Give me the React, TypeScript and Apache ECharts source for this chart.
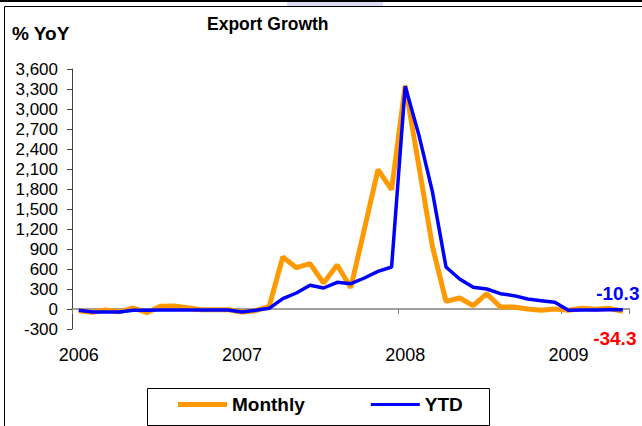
import React, { useEffect, useRef } from "react";
import * as echarts from "echarts";

const months: string[] = [];
const years = ["2006", "2007", "2008", "2009"];
years.forEach((y) => {
  for (let m = 1; m <= 12; m++) months.push(`${y}-${String(m).padStart(2, "0")}`);
});
const categories = months.slice(0, 41); // Jan 2006 - May 2009

const monthly = [
  -25, -50, -15, -40, 15, -55, 40, 45, 20, -10, -10, -10,
  -45, -25, 40, 780, 620, 680, 390, 660, 320, 1200, 2090, 1790,
  3350, 2150, 940, 115, 165, 50, 230, 30, 30, 0, -20, 0,
  -20, 10, -5, 10, -34.3,
];

const ytd = [
  -20, -45, -45, -45, -20, -20, -15, -15, -15, -15, -15, -15,
  -45, -20, 10, 155, 240, 355, 315, 400, 380, 465, 565, 630,
  3340, 2615, 1760, 630, 450, 325, 300, 230, 200, 150, 125, 100,
  -20, -15, -15, -10, -10.3,
];

const yMin = -300;
const yMax = 3600;
const yStep = 300;

const FONT = "Liberation Sans";

export default function App() {
  const ref = useRef<HTMLDivElement>(null);

  useEffect(() => {
    if (!ref.current) return;
    const chart = echarts.init(ref.current, undefined, { renderer: "svg" });
    const last = categories.length - 1;

    const endMark = (vals: number[], color: string, position: string, dist: number, dx: number) => ({
      silent: true,
      symbol: "circle",
      symbolSize: 0,
      data: [
        {
          coord: [categories[last], vals[last]],
          value: vals[last],
          label: {
            show: true,
            position,
            distance: dist,
            offset: [dx, 0],
            formatter: (p: any) => String(p.value),
            color,
            fontSize: 19,
            fontWeight: "bold",
            fontFamily: FONT,
          },
        },
      ],
    });

    chart.setOption({
      animation: false,
      backgroundColor: "#FFFFFF",
      textStyle: { fontFamily: FONT },
      title: [
        {
          text: "Export Growth",
          left: 207,
          top: 15,
          padding: 0,
          textStyle: { fontSize: 17.5, fontWeight: "bold", color: "#000", fontFamily: FONT },
        },
        {
          text: "% YoY",
          left: 12,
          top: 24,
          padding: 0,
          textStyle: { fontSize: 19, fontWeight: "bold", color: "#000", fontFamily: FONT },
        },
      ],
      graphic: [
        { type: "rect", shape: { x: 287, y: 1, width: 96, height: 5 }, style: { fill: "#DCDCF4" }, silent: true },
        { type: "rect", shape: { x: 0, y: 0, width: 642, height: 2 }, style: { fill: "#000" }, silent: true },
        {
          type: "rect",
          shape: { x: 4.5, y: 6.5, width: 700, height: 500 },
          style: { fill: "none", stroke: "#000", lineWidth: 1 },
          silent: true,
        },
        {
          type: "rect",
          shape: { x: 147.5, y: 388.5, width: 342, height: 37 },
          style: { fill: "#fff", stroke: "#000", lineWidth: 1 },
          silent: true,
          z: -1,
        },
      ],
      legend: {
        left: 178,
        top: 395,
        padding: 0,
        itemWidth: 49,
        itemHeight: 14,
        itemGap: 66,
        data: [
          { name: "Monthly", icon: "path://M0,0h49v5h-49z" },
          { name: "YTD", icon: "path://M0,0h49v3h-49z" },
        ],
        textStyle: { fontSize: 19, fontWeight: "bold", color: "#000", fontFamily: FONT },
      },
      grid: { left: 72, top: 69, width: 557.6, height: 260 },
      xAxis: [
        {
          type: "category",
          data: categories,
          boundaryGap: true,
          axisLine: { onZero: true, lineStyle: { color: "#808080", width: 1.5 } },
          axisTick: { show: true, interval: 11, length: 5, lineStyle: { color: "#808080" } },
          axisLabel: { show: false },
          splitLine: { show: false },
        },
        {
          type: "category",
          data: categories,
          boundaryGap: true,
          position: "bottom",
          axisLine: { show: false, onZero: false },
          axisTick: { show: false },
          axisLabel: {
            show: true,
            interval: 11,
            margin: 17,
            fontSize: 18,
            color: "#000",
            fontFamily: FONT,
            formatter: (v: string) => v.slice(0, 4),
          },
          splitLine: { show: false },
        },
      ],
      yAxis: {
        type: "value",
        min: yMin,
        max: yMax,
        interval: yStep,
        axisLine: { show: true, lineStyle: { color: "#404040", width: 1 } },
        axisTick: { show: true, length: 5, lineStyle: { color: "#404040" } },
        axisLabel: {
          margin: 14,
          fontSize: 17,
          color: "#000",
          fontFamily: FONT,
          formatter: (v: number) => v.toLocaleString("en-US"),
        },
        splitLine: { show: false },
      },
      series: [
        {
          name: "Monthly",
          type: "line",
          xAxisIndex: 0,
          data: monthly,
          showSymbol: false,
          symbol: "none",
          lineStyle: { color: "#FF9900", width: 5 },
          itemStyle: { color: "#FF9900" },
          markPoint: endMark(monthly, "#FF0000", "bottom", 18, -8),
          z: 2,
        },
        {
          name: "YTD",
          type: "line",
          xAxisIndex: 0,
          data: ytd,
          showSymbol: false,
          symbol: "none",
          lineStyle: { color: "#0000FF", width: 3.5 },
          itemStyle: { color: "#0000FF" },
          markPoint: endMark(ytd, "#0000FF", "top", 7, -5),
          z: 3,
        },
      ],
    });
    return () => chart.dispose();
  }, []);

  return (
    <div
      ref={ref}
      style={{ position: "fixed", left: 0, top: 0, width: 642, height: 426 }}
    />
  );
}
